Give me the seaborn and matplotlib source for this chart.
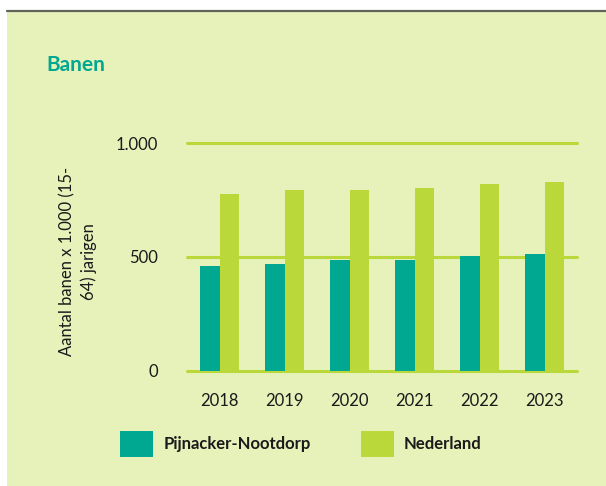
import matplotlib
matplotlib.use("Agg")
import matplotlib.pyplot as plt
import seaborn as sns
import pandas as pd
from matplotlib.patches import Rectangle
from matplotlib.lines import Line2D

# data
years = ["2018", "2019", "2020", "2021", "2022", "2023"]
pijnacker = [458, 467, 485, 485, 502, 511]
nederland = [775, 793, 793, 802, 819, 828]
series = ["Pijnacker-Nootdorp", "Nederland"]
yticks = [0, 500, 1000]
ytick_labels = ["0", "500", "1.000"]

teal = "#00A891"
lime = "#BBD83A"
bg = "#E7F1BA"
txt = "#1a1a1a"

df = pd.DataFrame({
    "jaar": years * 2,
    "banen": pijnacker + nederland,
    "gebied": [series[0]] * len(years) + [series[1]] * len(years),
})

sns.set_theme(style="white")
plt.rcParams["font.family"] = ["Lato", "DejaVu Sans"]

W, H = 606, 486
fig = plt.figure(figsize=(W / 100, H / 100), dpi=100)
fig.patch.set_facecolor("white")

# panel background + dark top rule
fig.patches.append(Rectangle((7 / W, 0), 1 - 7 / W, 1 - 12 / H,
                             transform=fig.transFigure, facecolor=bg,
                             edgecolor="none", zorder=-10))
fig.add_artist(Line2D([7 / W, 1], [1 - 11.5 / H, 1 - 11.5 / H],
                      transform=fig.transFigure, color="#5f6459", lw=1.6))

ax = fig.add_axes([187 / W, 1 - 370.5 / H, 390 / W, (370.5 - 143) / H])
ax.set_facecolor("none")

sns.barplot(data=df, x="jaar", y="banen", hue="gebied", order=years,
            hue_order=series, palette=[teal, lime], width=0.6,
            saturation=1, linewidth=0, ax=ax, zorder=3)

ax.set_xlim(-0.5, len(years) - 0.5)
ax.set_ylim(0, 1000)
ax.set_yticks(yticks)
ax.set_yticklabels(ytick_labels)
for v in yticks:
    ax.axhline(v, color=lime, lw=2.2, zorder=1, clip_on=False)
for s in ax.spines.values():
    s.set_visible(False)
ax.tick_params(axis="both", length=0, labelsize=12, labelcolor=txt)
ax.tick_params(axis="y", pad=21)
ax.tick_params(axis="x", pad=16)
ax.set_xlabel("")
ax.set_ylabel("Aantal banen x 1.000 (15-\n64) jarigen", fontsize=12,
              color=txt, linespacing=1.35, multialignment="center")
ax.yaxis.label.set_va("center")
ax.yaxis.set_label_coords((78 - 187) / 390, 0.48)

# title
fig.text(46 / W, 1 - 65 / H, "Banen", fontsize=15, fontweight="bold",
         color=teal, ha="left", va="center")

# legend
handles, labels = ax.get_legend_handles_labels()
ax.get_legend().remove()
leg = fig.legend(handles, labels, loc="upper left",
                 bbox_to_anchor=(120 / W, 1 - 431 / H), ncol=2,
                 frameon=False, fontsize=12, handlelength=2.0,
                 handleheight=2.0, handletextpad=0.6, columnspacing=3.0,
                 borderpad=0, borderaxespad=0)
for t in leg.get_texts():
    t.set_fontweight("bold")
    t.set_color(txt)
for h in leg.legend_handles:
    h.set_linewidth(0)

fig.savefig("out.png", dpi=100, facecolor=fig.get_facecolor())
